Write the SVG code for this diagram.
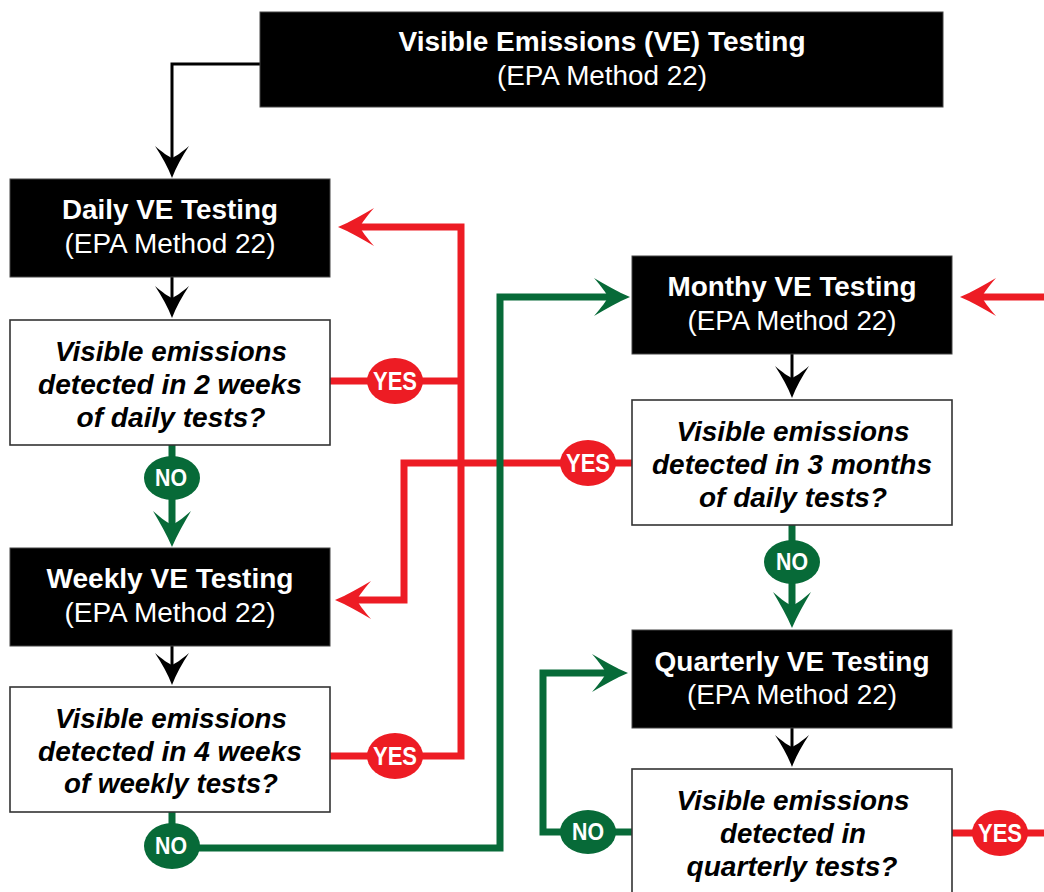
<svg xmlns="http://www.w3.org/2000/svg" width="1044" height="892" viewBox="0 0 1044 892">
<style>
.blk{fill:#000;stroke:#444;stroke-width:1}
.q{fill:#fff;stroke:#333;stroke-width:1.6}
.t{font-family:"Liberation Sans",Arial,sans-serif;font-size:27px;text-anchor:middle}
.w{fill:#fff}
.b{font-weight:bold}
.bi{font-weight:bold;font-style:italic;fill:#000}
.lk{fill:none;stroke:#000;stroke-width:3}
.lr{fill:none;stroke:#ED1C24;stroke-width:7;stroke-linejoin:miter}
.lg{fill:none;stroke:#076A38;stroke-width:7;stroke-linejoin:miter}
.ly{fill:#ED1C24}
.ln{fill:#076A38}
.lt{font-family:"Liberation Sans",Arial,sans-serif;font-weight:bold;fill:#fff;text-anchor:middle}
.ys{font-size:25px}
.no{font-size:23px}
</style>
<defs>
<marker id="ak" markerUnits="userSpaceOnUse" markerWidth="40" markerHeight="40" refX="14" refY="20" orient="auto" overflow="visible">
<path d="M34,20 C23,16 13,10 2,3 C9,11 12,16 14,20 C12,24 9,29 2,37 C13,30 23,24 34,20 Z" fill="#000"/>
</marker>
<marker id="ar" markerUnits="userSpaceOnUse" markerWidth="40" markerHeight="40" refX="14" refY="20" orient="auto" overflow="visible">
<path d="M36,20 C24,15 12,8 0,1 C8,10 12,16 14,20 C12,24 8,30 0,39 C12,32 24,25 36,20 Z" fill="#ED1C24"/>
</marker>
<marker id="ag" markerUnits="userSpaceOnUse" markerWidth="40" markerHeight="40" refX="14" refY="20" orient="auto" overflow="visible">
<path d="M36,20 C24,15 12,8 0,1 C8,10 12,16 14,20 C12,24 8,30 0,39 C12,32 24,25 36,20 Z" fill="#076A38"/>
</marker>
</defs>
<rect width="1044" height="892" fill="#fff"/>
<g id="connectors">
<path class="lk" d="M260,64 H172 V158" marker-end="url(#ak)"/>
<path class="lk" d="M172,277 V298" marker-end="url(#ak)"/>
<path class="lk" d="M172,646 V665" marker-end="url(#ak)"/>
<path class="lk" d="M792,354 V378" marker-end="url(#ak)"/>
<path class="lk" d="M792,728 V747" marker-end="url(#ak)"/>
<path class="lr" d="M330,381 H461"/>
<path class="lr" d="M330,756 H461 V227 H360" marker-end="url(#ar)"/>
<path class="lr" d="M632,463 H404 V600 H357" marker-end="url(#ar)"/>
<path class="lr" d="M1044,297 H982" marker-end="url(#ar)"/>
<path class="lr" d="M952,833 H1044"/>
<path class="lg" d="M172,445 V525" marker-end="url(#ag)"/>
<path class="lg" d="M172,812 V848 H500 V297 H608" marker-end="url(#ag)"/>
<path class="lg" d="M792,525 V606" marker-end="url(#ag)"/>
<path class="lg" d="M632,832 H543 V673 H606" marker-end="url(#ag)"/>
</g>
<g id="ve-testing">
<rect class="blk" x="260" y="12" width="683" height="95"/>
<text class="t w b" x="602" y="51" textLength="407" lengthAdjust="spacingAndGlyphs">Visible Emissions (VE) Testing</text>
<text class="t w" x="602" y="85" textLength="210" lengthAdjust="spacingAndGlyphs">(EPA Method 22)</text>
</g>
<g id="daily">
<rect class="blk" x="10" y="179" width="320" height="98"/>
<text class="t w b" x="170" y="219" textLength="216" lengthAdjust="spacingAndGlyphs">Daily VE Testing</text>
<text class="t w" x="170" y="253" textLength="211" lengthAdjust="spacingAndGlyphs">(EPA Method 22)</text>
</g>
<g id="q-daily">
<rect class="q" x="10" y="320" width="320" height="125"/>
<text class="t bi" x="171" y="361" textLength="232" lengthAdjust="spacingAndGlyphs">Visible emissions</text>
<text class="t bi" x="170" y="394" textLength="264" lengthAdjust="spacingAndGlyphs">detected in 2 weeks</text>
<text class="t bi" x="171" y="427" textLength="189" lengthAdjust="spacingAndGlyphs">of daily tests?</text>
</g>
<g id="weekly">
<rect class="blk" x="10" y="548" width="320" height="98"/>
<text class="t w b" x="170" y="588" textLength="247" lengthAdjust="spacingAndGlyphs">Weekly VE Testing</text>
<text class="t w" x="170" y="622" textLength="211" lengthAdjust="spacingAndGlyphs">(EPA Method 22)</text>
</g>
<g id="q-weekly">
<rect class="q" x="10" y="687" width="320" height="125"/>
<text class="t bi" x="171" y="728" textLength="232" lengthAdjust="spacingAndGlyphs">Visible emissions</text>
<text class="t bi" x="170" y="761" textLength="264" lengthAdjust="spacingAndGlyphs">detected in 4 weeks</text>
<text class="t bi" x="171" y="793" textLength="214" lengthAdjust="spacingAndGlyphs">of weekly tests?</text>
</g>
<g id="monthly">
<rect class="blk" x="632" y="256" width="320" height="98"/>
<text class="t w b" x="792" y="296" textLength="249" lengthAdjust="spacingAndGlyphs">Monthy VE Testing</text>
<text class="t w" x="792" y="330" textLength="209" lengthAdjust="spacingAndGlyphs">(EPA Method 22)</text>
</g>
<g id="q-monthly">
<rect class="q" x="632" y="400" width="320" height="125"/>
<text class="t bi" x="793" y="441" textLength="233" lengthAdjust="spacingAndGlyphs">Visible emissions</text>
<text class="t bi" x="792" y="474" textLength="280" lengthAdjust="spacingAndGlyphs">detected in 3 months</text>
<text class="t bi" x="793" y="507" textLength="188" lengthAdjust="spacingAndGlyphs">of daily tests?</text>
</g>
<g id="quarterly">
<rect class="blk" x="632" y="630" width="320" height="98"/>
<text class="t w b" x="792" y="671" textLength="275" lengthAdjust="spacingAndGlyphs">Quarterly VE Testing</text>
<text class="t w" x="792" y="704" textLength="210" lengthAdjust="spacingAndGlyphs">(EPA Method 22)</text>
</g>
<g id="q-quarterly">
<rect class="q" x="632" y="769" width="320" height="140"/>
<text class="t bi" x="793" y="810" textLength="233" lengthAdjust="spacingAndGlyphs">Visible emissions</text>
<text class="t bi" x="793" y="843" textLength="146" lengthAdjust="spacingAndGlyphs">detected in</text>
<text class="t bi" x="792" y="876" textLength="211" lengthAdjust="spacingAndGlyphs">quarterly tests?</text>
</g>
<g id="labels">
<ellipse class="ly" cx="395" cy="381" rx="28" ry="23"/>
<text class="lt ys" x="395" y="389.5" textLength="44" lengthAdjust="spacingAndGlyphs">YES</text>
<ellipse class="ly" cx="395" cy="756" rx="28" ry="23"/>
<text class="lt ys" x="395" y="764.5" textLength="44" lengthAdjust="spacingAndGlyphs">YES</text>
<ellipse class="ly" cx="588" cy="463" rx="28" ry="23"/>
<text class="lt ys" x="588" y="471.5" textLength="44" lengthAdjust="spacingAndGlyphs">YES</text>
<ellipse class="ly" cx="1000" cy="833" rx="28" ry="23"/>
<text class="lt ys" x="1000" y="841.5" textLength="44" lengthAdjust="spacingAndGlyphs">YES</text>
<ellipse class="ln" cx="172" cy="478" rx="28" ry="22"/>
<text class="lt no" x="171" y="485.5" textLength="32" lengthAdjust="spacingAndGlyphs">NO</text>
<ellipse class="ln" cx="172" cy="846" rx="28" ry="23"/>
<text class="lt no" x="171" y="854" textLength="32" lengthAdjust="spacingAndGlyphs">NO</text>
<ellipse class="ln" cx="792" cy="562" rx="28" ry="22"/>
<text class="lt no" x="792" y="569.5" textLength="32" lengthAdjust="spacingAndGlyphs">NO</text>
<ellipse class="ln" cx="588" cy="832" rx="28" ry="22"/>
<text class="lt no" x="588" y="839.5" textLength="32" lengthAdjust="spacingAndGlyphs">NO</text>
</g>
</svg>
